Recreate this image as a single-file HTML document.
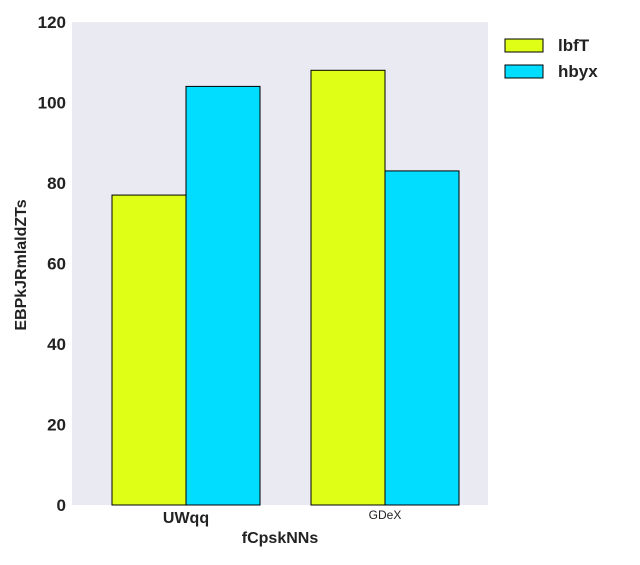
<!DOCTYPE html>
<html><head><meta charset="utf-8"><style>
body{margin:0;background:#fff;width:640px;height:560px;overflow:hidden}
svg text{font-family:"Liberation Sans",sans-serif;fill:#222}
</style></head><body>
<svg id="chart" width="640" height="560"></svg>
<script>
const categories=["UWqq","GDeX"];
const seriesNames=["lbfT","hbyx"];
const seriesLbfT=[77,108];
const seriesHbyx=[104,83];
const yTicks=[0,20,40,60,80,100,120];
const colors=["#e0ff17","#00ddff"];
const NS="http://www.w3.org/2000/svg";
const svg=document.getElementById('chart');
const L=72,R=488,T=22,B=505;
const y=v=>B-(v/120)*(B-T);
const xc=i=>186+i*199;
const bw=74;
function mk(tag,attrs,parent){const e=document.createElementNS(NS,tag);for(const k in attrs)e.setAttribute(k,attrs[k]);(parent||svg).appendChild(e);return e;}
const bg=mk('rect',{x:L,y:T,width:R-L,height:B-T,fill:'#eaeaf2'});


yTicks.forEach(t=>{const tx=mk('text',{x:66,y:y(t)+6,'text-anchor':'end','font-size':'17','font-weight':'bold'});tx.textContent=t;

});
const series=[seriesLbfT,seriesHbyx];
series.forEach((s,si)=>{s.forEach((v,i)=>{const x0=xc(i)-bw+si*bw;const r=mk('rect',{x:x0,y:y(v),width:bw,height:B-y(v),fill:colors[si],stroke:'#000','stroke-width':1});

});});
const xl0=mk('text',{x:xc(0),y:523,'text-anchor':'middle','font-size':'16','font-weight':'bold'});xl0.textContent=categories[0];


const xl1=mk('text',{x:xc(1),y:519,'text-anchor':'middle','font-size':'12'});xl1.textContent=categories[1];


const xt=mk('text',{x:280,y:543,'text-anchor':'middle','font-size':'16','font-weight':'bold'});xt.textContent="fCpskNNs";


const yt=mk('text',{x:0,y:0,'text-anchor':'middle','font-size':'16','font-weight':'bold',transform:'translate(26,265) rotate(-90)'});yt.textContent="EBPkJRmlaldZTs";


seriesNames.forEach((n,i)=>{const g=mk('g',{});


mk('rect',{x:505,y:39+i*26,width:38,height:13,fill:colors[i],stroke:'#000','stroke-width':1},g);
const t=mk('text',{x:558,y:51+i*26,'font-size':'17','font-weight':'bold'},g);t.textContent=n;});
</script>
</body></html>
